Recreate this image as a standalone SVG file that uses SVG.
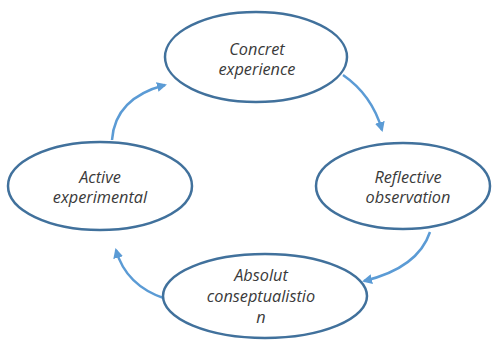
<svg xmlns="http://www.w3.org/2000/svg" width="495" height="341" viewBox="0 0 495 341">
<defs>
<marker id="ah" viewBox="0 0 10 10" refX="8" refY="5" markerWidth="4" markerHeight="4" orient="auto" markerUnits="strokeWidth">
<path d="M0,0 L10,5 L0,10 z" fill="#5B9BD5"/>
</marker>
<style>
.node{fill:#fff;stroke:#41719C;stroke-width:2.5}
.lbl{font-family:"Open Sans","Liberation Sans",sans-serif;font-style:italic;font-size:16.3px;fill:#3a3a3a;text-anchor:middle}
.con{fill:none;stroke:#5B9BD5;stroke-width:2.5;marker-end:url(#ah)}
</style>
</defs>
<rect width="495" height="341" fill="#fff"/>
<g id="connectors">
<path class="con" d="M343,75 Q372,95 382,130"/>
<path class="con" d="M430,232 Q418,268 364,281"/>
<path class="con" d="M166,299 Q126,286 116,250"/>
<path class="con" d="M112,140 Q115,98 165,85"/>
</g>
<g id="concrete">
<ellipse class="node" cx="256" cy="57" rx="91" ry="45"/>
<text class="lbl" x="257" y="55">Concret</text>
<text class="lbl" x="257" y="75">experience</text>
</g>
<g id="reflective">
<ellipse class="node" cx="403" cy="186" rx="87" ry="43"/>
<text class="lbl" x="408" y="183">Reflective</text>
<text class="lbl" x="408" y="203">observation</text>
</g>
<g id="absolut">
<ellipse class="node" cx="265" cy="296" rx="102" ry="42"/>
<text class="lbl" x="261" y="281">Absolut</text>
<text class="lbl" x="261" y="302">conseptualistio</text>
<text class="lbl" x="261" y="323">n</text>
</g>
<g id="active">
<ellipse class="node" cx="100" cy="186" rx="92" ry="44"/>
<text class="lbl" x="100" y="183">Active</text>
<text class="lbl" x="100" y="203">experimental</text>
</g>
</svg>
